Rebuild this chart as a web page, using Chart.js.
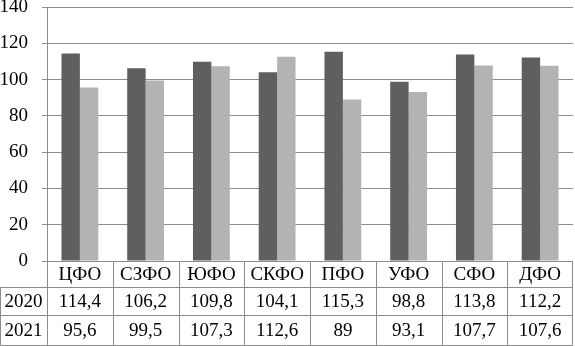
<!DOCTYPE html>
<html lang="ru">
<head>
  <meta charset="UTF-8">
  <title>Индексы по федеральным округам</title>
  <style>
    html, body { margin: 0; padding: 0; background: #fff; }
    .chart-box { position: relative; width: 575px; height: 346px; }
  </style>
</head>
<body>
  <div class="chart-box">
    <canvas id="regionsChart"></canvas>
  </div>

  <script src="https://cdn.jsdelivr.net/npm/chart.js"></script>
  <script>
    // данные с рисунка
    const regions = ['ЦФО', 'СЗФО', 'ЮФО', 'СКФО', 'ПФО', 'УФО', 'СФО', 'ДФО'];
    const years = ['2020', '2021'];
    const values2020 = [114.4, 106.2, 109.8, 104.1, 115.3, 98.8, 113.8, 112.2];
    const values2021 = [95.6, 99.5, 107.3, 112.6, 89, 93.1, 107.7, 107.6];
    const yTicks = [0, 20, 40, 60, 80, 100, 120, 140];

    const lineColor = '#8c8c8c';
    const fontFamily = '"Liberation Serif", "Times New Roman", serif';

    // таблица данных под графиком
    const tablePlugin = {
      id: 'dataTable',
      afterDraw(chart) {
        const ctx = chart.ctx;
        const a = chart.chartArea;
        const x = chart.scales.x;
        const colW = (a.right - a.left) / regions.length;
        const top = Math.round(a.bottom) + 0.5;
        const rowY = [top, top + 26, top + 54, top + 84];
        const right = Math.round(a.right) - 0.5;
        const left = Math.round(a.left) + 0.5;

        ctx.save();
        ctx.strokeStyle = lineColor;
        ctx.lineWidth = 1;
        ctx.beginPath();
        // горизонтальные линии
        ctx.moveTo(left, rowY[0]); ctx.lineTo(right, rowY[0]);
        for (let r = 1; r < rowY.length; r++) {
          ctx.moveTo(0.5, rowY[r]); ctx.lineTo(right, rowY[r]);
        }
        // вертикальные линии
        ctx.moveTo(0.5, rowY[1]); ctx.lineTo(0.5, rowY[3]);
        for (let i = 0; i <= regions.length; i++) {
          const px = Math.round(a.left + i * colW) + 0.5;
          const xx = i === regions.length ? right : px;
          ctx.moveTo(xx, rowY[0]); ctx.lineTo(xx, rowY[3]);
        }
        ctx.stroke();

        ctx.fillStyle = '#000';
        ctx.font = '19px ' + fontFamily;
        ctx.textAlign = 'center';
        ctx.textBaseline = 'middle';
        const fmt = v => String(v).replace('.', ',');
        const mid = r => (rowY[r] + rowY[r + 1]) / 2 + 1;
        regions.forEach((name, i) => {
          const cx = x.getPixelForValue(i);
          ctx.fillText(name, cx, mid(0));
          ctx.fillText(fmt(values2020[i]), cx, mid(1));
          ctx.fillText(fmt(values2021[i]), cx, mid(2));
        });
        const lx = a.left / 2;
        ctx.fillText(years[0], lx, mid(1));
        ctx.fillText(years[1], lx, mid(2));
        ctx.restore();
      }
    };

    const ctx = document.getElementById('regionsChart').getContext('2d');
    const regionsChart = new Chart(ctx, {
      type: 'bar',
      data: {
        labels: regions,
        datasets: [{
          label: years[0],
          data: values2020,
          backgroundColor: '#5f5f5f',
          borderWidth: 0
        }, {
          label: years[1],
          data: values2021,
          backgroundColor: '#b3b3b3',
          borderWidth: 0
        }]
      },
      options: {
        responsive: true,
        maintainAspectRatio: false,
        animation: false,
        layout: {
          padding: { top: 7, bottom: 85, left: 0, right: 2 }
        },
        plugins: {
          legend: { display: false },
          tooltip: { enabled: false }
        },
        datasets: {
          bar: { categoryPercentage: 0.56, barPercentage: 1 }
        },
        scales: {
          x: {
            display: false
          },
          y: {
            min: 0,
            max: 140,
            afterBuildTicks: s => { s.ticks = yTicks.map(v => ({ value: v })); },
            afterFit: s => { s.width = 47; s.paddingTop = 0; s.paddingBottom = 0; },
            grid: {
              color: lineColor,
              lineWidth: 1,
              tickLength: 5
            },
            border: { color: lineColor },
            ticks: {
              color: '#000',
              padding: 14,
              font: { family: fontFamily, size: 19 }
            }
          }
        }
      },
      plugins: [tablePlugin]
    });
  </script>
</body>
</html>
